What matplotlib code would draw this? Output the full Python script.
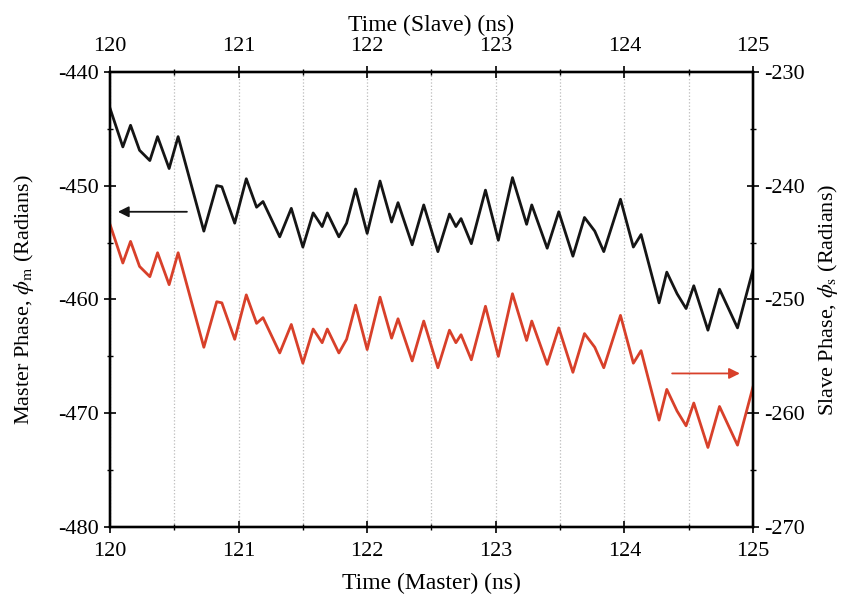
import numpy as np
import matplotlib
matplotlib.use('Agg')
import matplotlib.pyplot as plt
from matplotlib.ticker import MultipleLocator

plt.rcParams['font.family'] = ['Liberation Serif', 'DejaVu Serif']
plt.rcParams['mathtext.fontset'] = 'stix'
plt.rcParams['axes.unicode_minus'] = False

# time samples (ns)
time_ns = [120.0, 120.10, 120.16, 120.23, 120.31, 120.37, 120.46, 120.53, 120.73, 120.83,
           120.87, 120.97, 121.06, 121.14, 121.19, 121.32, 121.41, 121.50, 121.58, 121.65,
           121.69, 121.78, 121.84, 121.91, 122.00, 122.10, 122.19, 122.24, 122.35, 122.44,
           122.55, 122.64, 122.69, 122.73, 122.81, 122.92, 123.02, 123.13, 123.24, 123.28,
           123.40, 123.49, 123.60, 123.69, 123.77, 123.84, 123.97, 124.07, 124.13, 124.27,
           124.33, 124.41, 124.48, 124.54, 124.65, 124.74, 124.88, 125.0]

master_phase = [-443.2, -446.6, -444.7, -446.9, -447.8, -445.7, -448.5, -445.7, -454.0, -450.0,
                -450.1, -453.3, -449.4, -451.9, -451.4, -454.5, -452.0, -455.4, -452.4, -453.6,
                -452.4, -454.5, -453.3, -450.3, -454.2, -449.6, -453.2, -451.5, -455.2, -451.7,
                -455.8, -452.5, -453.6, -452.9, -455.1, -450.4, -454.8, -449.3, -453.4, -451.7,
                -455.5, -452.3, -456.2, -452.8, -454.0, -455.8, -451.2, -455.4, -454.3, -460.3,
                -457.6, -459.5, -460.8, -458.8, -462.7, -459.1, -462.5, -457.4]

slave_phase = [-243.4, -246.8, -244.9, -247.1, -248.0, -245.9, -248.7, -245.9, -254.2, -250.2,
               -250.3, -253.5, -249.6, -252.1, -251.6, -254.7, -252.2, -255.6, -252.6, -253.8,
               -252.6, -254.7, -253.5, -250.5, -254.4, -249.8, -253.4, -251.7, -255.4, -251.9,
               -256.0, -252.7, -253.8, -253.1, -255.3, -250.6, -255.0, -249.5, -253.6, -251.9,
               -255.7, -252.5, -256.4, -253.0, -254.2, -256.0, -251.4, -255.6, -254.5, -260.6,
               -257.9, -259.8, -261.1, -259.1, -263.0, -259.4, -262.8, -257.7]

red = '#d8402a'

fig = plt.figure(figsize=(8.46, 6.08), dpi=100)
ax = fig.add_axes([0.130, 0.133, 0.760, 0.749])
ax2 = ax.twinx()
ax_top = ax.twiny()

ax.plot(time_ns, master_phase, color='#151515', lw=2.0, solid_joinstyle='round')
ax2.plot(time_ns, slave_phase, color=red, lw=2.0, solid_joinstyle='round')

ax.set_xlim(120, 125)
ax.set_ylim(-480, -440)
ax2.set_ylim(-270, -230)
ax_top.set_xlim(120, 125)

# arrows pointing at the matching axis
ax.annotate('', xy=(120.04, -452.3), xytext=(120.62, -452.3),
            arrowprops=dict(arrowstyle='-|>', color='#151515', lw=1.3, mutation_scale=16))
ax2.annotate('', xy=(124.92, -256.5), xytext=(124.35, -256.5),
             arrowprops=dict(arrowstyle='-|>', color=red, lw=1.3, mutation_scale=16))

for a in (ax, ax_top):
    a.xaxis.set_major_locator(MultipleLocator(1))
    a.xaxis.set_minor_locator(MultipleLocator(0.5))
for a in (ax, ax2):
    a.yaxis.set_major_locator(MultipleLocator(10))
    a.yaxis.set_minor_locator(MultipleLocator(5))

ax.xaxis.grid(True, which='both', ls=':', color='#bbbbbb', lw=0.9)

for a in (ax, ax2, ax_top):
    a.tick_params(which='major', direction='inout', length=9, width=1.2, labelsize=16)
    a.tick_params(which='minor', direction='inout', length=5, width=1.0)
    for s in a.spines.values():
        s.set_linewidth(1.6)
ax.tick_params(axis='x', pad=6)
ax_top.tick_params(axis='x', pad=7)

ax.set_xlabel('Time (Master) (ns)', fontsize=17, labelpad=9)
ax_top.set_xlabel('Time (Slave) (ns)', fontsize=17, labelpad=4)
ax.set_ylabel(r'Master Phase, $\phi_{\rm m}$ (Radians)', fontsize=16, labelpad=16)
ax2.set_ylabel(r'Slave Phase, $\phi_{\rm s}$ (Radians)', fontsize=16, labelpad=8)

fig.savefig('out.png', dpi=100)
